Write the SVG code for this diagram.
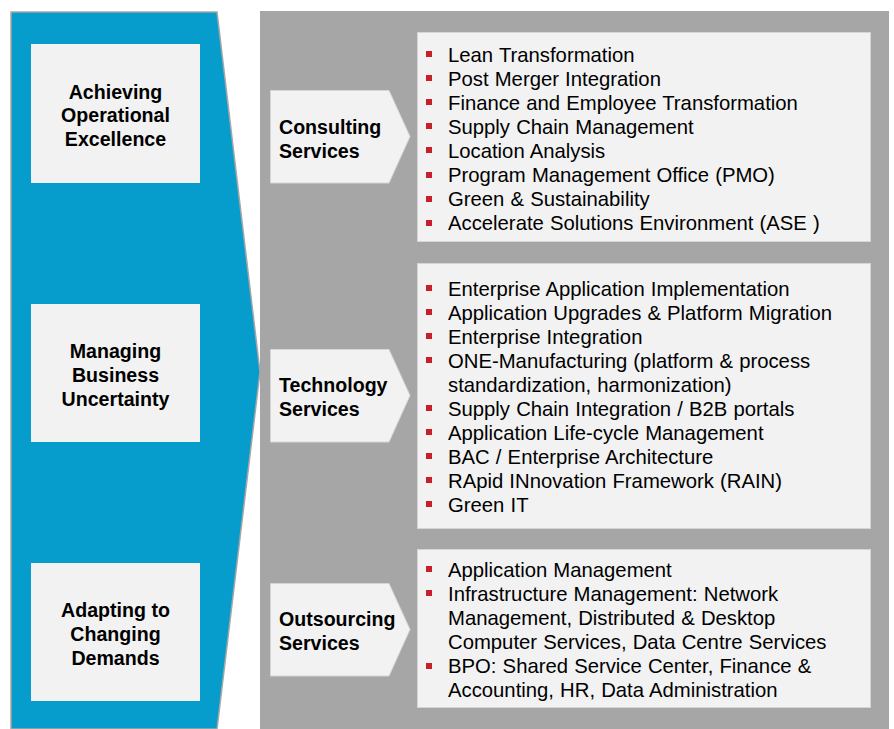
<svg xmlns="http://www.w3.org/2000/svg" width="894" height="729" viewBox="0 0 894 729">
<style>
.lbl{font-family:"Liberation Sans",Arial,sans-serif;font-size:19.6px;font-weight:bold;fill:#000}
.ctr{text-anchor:middle}
.itm{font-family:"Liberation Sans",Arial,sans-serif;font-size:20.3px;fill:#000;word-spacing:0.5px}
.box{fill:#f2f2f2;stroke:#d6d6d6;stroke-width:1}
.bul{fill:#c8202a}
</style>
<defs>
<rect id="b" class="bul" width="6" height="6"/>
</defs>
<rect x="0" y="0" width="894" height="729" fill="#fff"/>
<g id="background">
<polygon points="11,12 217,12 260,372 217,729 11,729" fill="#069dcd" stroke="#a6a6a6" stroke-width="1.5"/>
<rect x="260" y="11" width="629" height="718" fill="#a6a6a6"/>
</g>
<g id="goal-1">
<rect x="31" y="44" width="169" height="139" fill="#f2f2f2"/>
<text class="lbl ctr" x="115.5" y="98.5">Achieving</text>
<text class="lbl ctr" x="115.5" y="122">Operational</text>
<text class="lbl ctr" x="115.5" y="146">Excellence</text>
</g>
<g id="goal-2">
<rect x="31" y="304" width="169" height="138" fill="#f2f2f2"/>
<text class="lbl ctr" x="115.5" y="358">Managing</text>
<text class="lbl ctr" x="115.5" y="382">Business</text>
<text class="lbl ctr" x="115.5" y="406">Uncertainty</text>
</g>
<g id="goal-3">
<rect x="31" y="563" width="169" height="138" fill="#f2f2f2"/>
<text class="lbl ctr" x="115.5" y="617">Adapting to</text>
<text class="lbl ctr" x="115.5" y="641">Changing</text>
<text class="lbl ctr" x="115.5" y="665">Demands</text>
</g>
<g id="consulting">
<polygon class="box" points="270.5,90.5 389,90.5 410,136.5 389,183 270.5,183"/>
<text class="lbl" x="279" y="134">Consulting</text>
<text class="lbl" x="279" y="158">Services</text>
</g>
<g id="technology">
<polygon class="box" points="270.5,349.5 389,349.5 410,395.5 389,442 270.5,442"/>
<text class="lbl" x="279" y="392">Technology</text>
<text class="lbl" x="279" y="416">Services</text>
</g>
<g id="outsourcing">
<polygon class="box" points="270.5,583.5 389,583.5 410,629.5 389,676 270.5,676"/>
<text class="lbl" x="279" y="626">Outsourcing</text>
<text class="lbl" x="279" y="650">Services</text>
</g>
<g id="consulting-list">
<rect class="box" x="417.5" y="32.5" width="453" height="209"/>
<use href="#b" x="426" y="51"/><text class="itm" x="448" y="61.5">Lean Transformation</text>
<use href="#b" x="426" y="75"/><text class="itm" x="448" y="85.6">Post Merger Integration</text>
<use href="#b" x="426" y="99"/><text class="itm" x="448" y="109.7">Finance and Employee Transformation</text>
<use href="#b" x="426" y="123"/><text class="itm" x="448" y="133.8">Supply Chain Management</text>
<use href="#b" x="426" y="147"/><text class="itm" x="448" y="157.9">Location Analysis</text>
<use href="#b" x="426" y="172"/><text class="itm" x="448" y="182">Program Management Office (PMO)</text>
<use href="#b" x="426" y="196"/><text class="itm" x="448" y="206.1">Green &amp; Sustainability</text>
<use href="#b" x="426" y="220"/><text class="itm" x="448" y="230.2">Accelerate Solutions Environment (ASE )</text>
</g>
<g id="technology-list">
<rect class="box" x="417.5" y="263.5" width="453" height="265"/>
<use href="#b" x="426" y="285"/><text class="itm" x="448" y="295.7">Enterprise Application Implementation</text>
<use href="#b" x="426" y="309"/><text class="itm" x="448" y="319.7">Application Upgrades &amp; Platform Migration</text>
<use href="#b" x="426" y="333"/><text class="itm" x="448" y="343.7">Enterprise Integration</text>
<use href="#b" x="426" y="357"/><text class="itm" x="448" y="367.7">ONE-Manufacturing (platform &amp; process</text>
<text class="itm" x="448" y="391.7">standardization, harmonization)</text>
<use href="#b" x="426" y="405"/><text class="itm" x="448" y="415.7">Supply Chain Integration / B2B portals</text>
<use href="#b" x="426" y="429"/><text class="itm" x="448" y="439.7">Application Life-cycle Management</text>
<use href="#b" x="426" y="453"/><text class="itm" x="448" y="463.7">BAC / Enterprise Architecture</text>
<use href="#b" x="426" y="477"/><text class="itm" x="448" y="487.7">RApid INnovation Framework (RAIN)</text>
<use href="#b" x="426" y="501"/><text class="itm" x="448" y="511.7">Green IT</text>
</g>
<g id="outsourcing-list">
<rect class="box" x="417.5" y="549.5" width="453" height="158"/>
<use href="#b" x="426" y="566"/><text class="itm" x="448" y="576.7">Application Management</text>
<use href="#b" x="426" y="590"/><text class="itm" x="448" y="600.8">Infrastructure Management: Network</text>
<text class="itm" x="448" y="624.9">Management, Distributed &amp; Desktop</text>
<text class="itm" x="448" y="649">Computer Services, Data Centre Services</text>
<use href="#b" x="426" y="663"/><text class="itm" x="448" y="673.1">BPO: Shared Service Center, Finance &amp;</text>
<text class="itm" x="448" y="697.2">Accounting, HR, Data Administration</text>
</g>
<g id="connectors"></g>
</svg>
